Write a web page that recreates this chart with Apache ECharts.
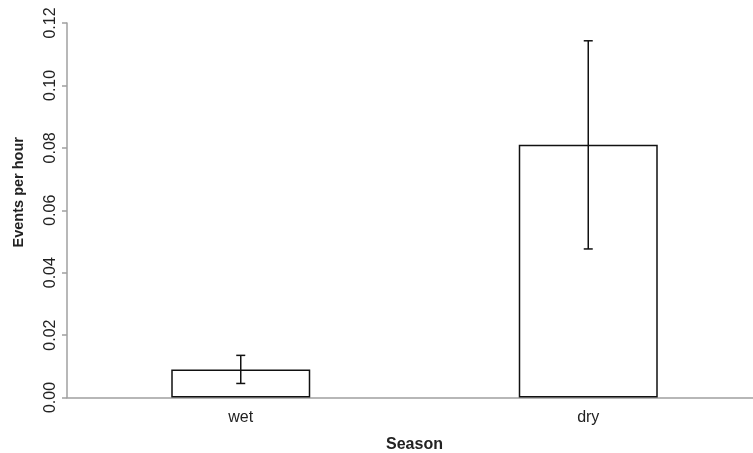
<!DOCTYPE html>
<html>
<head>
<meta charset="utf-8">
<script src="https://cdn.jsdelivr.net/npm/echarts@6/dist/echarts.min.js"></script>
<style>html,body{margin:0;padding:0;background:#fff}#c{width:753px;height:453px}</style>
</head>
<body>
<div id="c"></div>
<script>
var categories = ['wet', 'dry'];
var means = [0.009, 0.081];
var lowers = [0.0045, 0.0476];
var uppers = [0.0135, 0.1143];
var yTicks = [0, 0.02, 0.04, 0.06, 0.08, 0.10, 0.12];

var errData = categories.map(function (c, i) { return [i, lowers[i], uppers[i]]; });
var font = 'Liberation Sans, Arial, sans-serif';
var chart = echarts.init(document.getElementById('c'));
chart.setOption({
  animation: false,
  grid: { left: 67, top: 23, bottom: 55.5, width: 695, containLabel: false, outerBoundsMode: 'none' },
  xAxis: {
    type: 'category',
    data: categories,
    axisLine: { lineStyle: { color: '#a0a0a0', width: 1.5 } },
    axisTick: { show: false },
    axisLabel: { margin: 12, fontSize: 16, color: '#222', fontFamily: font },
    name: 'Season',
    nameLocation: 'middle',
    nameGap: 39,
    nameTextStyle: { fontSize: 16, fontWeight: 'bold', color: '#222', fontFamily: font }
  },
  yAxis: {
    type: 'value',
    min: yTicks[0], max: yTicks[yTicks.length - 1], interval: 0.02,
    splitLine: { show: false },
    axisLine: { show: true, lineStyle: { color: '#a0a0a0', width: 1.5 } },
    axisTick: { show: true, length: 5, lineStyle: { color: '#a0a0a0', width: 1.5 } },
    axisLabel: { rotate: 90, margin: 8, fontSize: 16, color: '#222', fontFamily: font,
      formatter: function (v) { return v.toFixed(2); } },
    name: 'Events per hour',
    nameLocation: 'middle',
    nameRotate: 90,
    nameGap: 41,
    nameTextStyle: { fontSize: 14.5, fontWeight: 'bold', color: '#222', fontFamily: font,
      padding: [0, 0, 0, 36] }
  },
  series: [
    {
      type: 'bar',
      data: means,
      barWidth: '40%',
      itemStyle: { color: '#fff', borderColor: '#111', borderWidth: 1.5 }
    },
    {
      type: 'custom',
      data: errData,
      z: 10,
      renderItem: function (params, api) {
        var x = api.value(0);
        var lo = api.coord([x, api.value(1)]);
        var hi = api.coord([x, api.value(2)]);
        var w = 4.5;
        var st = { stroke: '#111', lineWidth: 1.5 };
        return {
          type: 'group',
          children: [
            { type: 'line', shape: { x1: lo[0], y1: lo[1], x2: hi[0], y2: hi[1] }, style: st },
            { type: 'line', shape: { x1: lo[0] - w, y1: lo[1], x2: lo[0] + w, y2: lo[1] }, style: st },
            { type: 'line', shape: { x1: hi[0] - w, y1: hi[1], x2: hi[0] + w, y2: hi[1] }, style: st }
          ]
        };
      }
    }
  ]
});
</script>
</body>
</html>
